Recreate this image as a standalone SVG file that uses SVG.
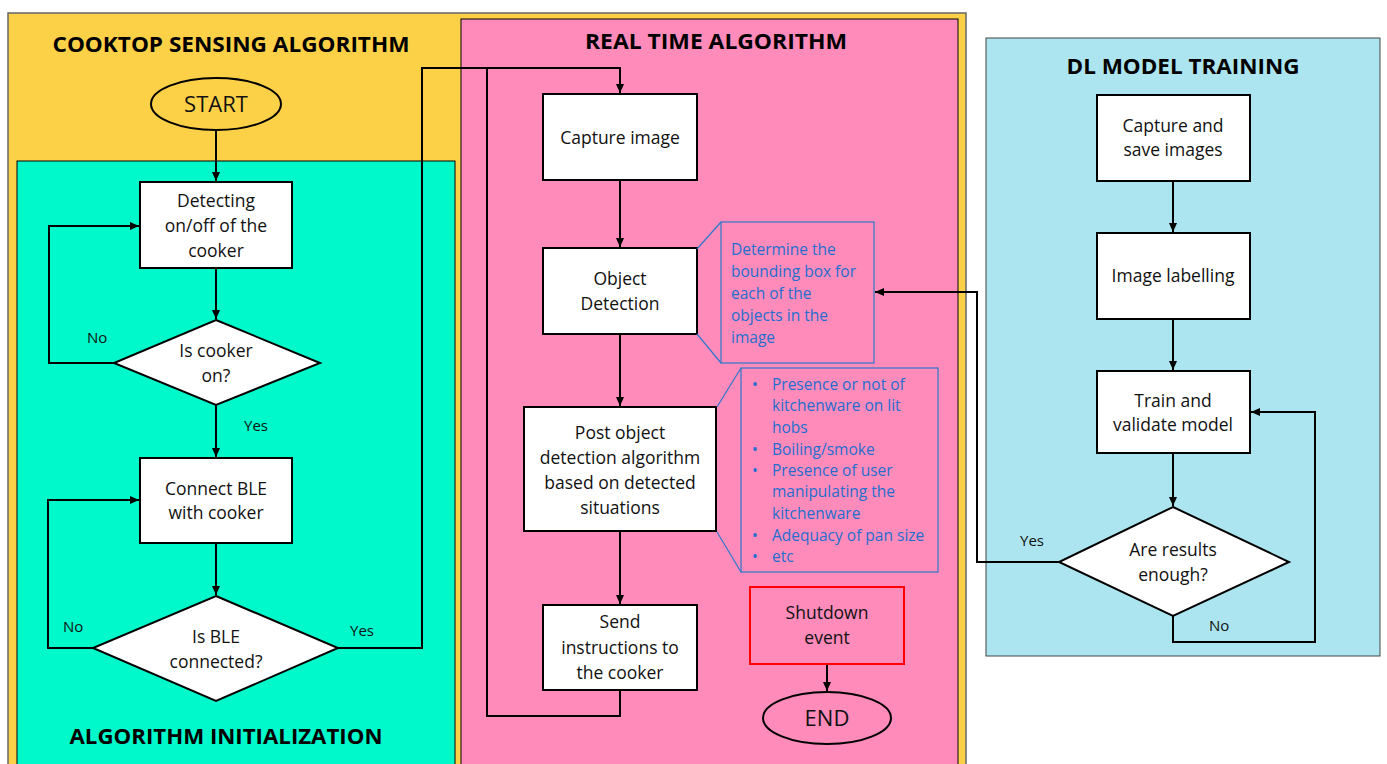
<svg xmlns="http://www.w3.org/2000/svg" width="1387" height="764" viewBox="0 0 1387 764">
<defs>
<marker id="ah" markerWidth="10" markerHeight="10" refX="9" refY="5" orient="auto" markerUnits="userSpaceOnUse">
<path d="M0,1 L9,5 L0,9 Z" fill="#000"/>
</marker>
<style>
.t{font-family:"Open Sans","Liberation Sans",sans-serif;font-size:17.5px;fill:#111;text-anchor:middle}
.h{font-family:"Open Sans","Liberation Sans",sans-serif;font-size:22px;font-weight:bold;fill:#000;text-anchor:middle}
.l{font-family:"Open Sans","Liberation Sans",sans-serif;font-size:15px;fill:#111}
.c{font-family:"Open Sans","Liberation Sans",sans-serif;font-size:15.5px;fill:#1F6ED0}
.box{fill:#fff;stroke:#000;stroke-width:2}
.cn{fill:none;stroke:#000;stroke-width:2}
.co{fill:none;stroke:#2E78CC;stroke-width:1.2}
</style>
</defs>
<rect width="1387" height="764" fill="#fff"/>
<g id="group-cooktop">
<rect x="8" y="13" width="958" height="760" fill="#FDD147" stroke="#666" stroke-width="1.5"/>
<text class="h" x="231" y="52" textLength="357" lengthAdjust="spacingAndGlyphs">COOKTOP SENSING ALGORITHM</text>
</g>
<g id="group-realtime">
<rect x="461" y="19" width="497" height="760" fill="#FE8BBA" stroke="#000" stroke-width="1"/>
<text class="h" x="716" y="49" textLength="262" lengthAdjust="spacingAndGlyphs">REAL TIME ALGORITHM</text>
</g>
<g id="group-init">
<rect x="17" y="161" width="438" height="610" fill="#00F9CA" stroke="#000" stroke-width="1"/>
<text class="h" x="226" y="744" textLength="313" lengthAdjust="spacingAndGlyphs">ALGORITHM INITIALIZATION</text>
</g>
<g id="group-dl">
<rect x="986" y="38" width="394" height="618" fill="#ACE5EF" stroke="#444" stroke-width="1"/>
<text class="h" x="1183" y="74" textLength="233" lengthAdjust="spacingAndGlyphs">DL MODEL TRAINING</text>
</g>

<g id="connectors">
<path class="cn" d="M216,130 V181" marker-end="url(#ah)"/>
<path class="cn" d="M216,268 V319" marker-end="url(#ah)"/>
<path class="cn" d="M114,363 H49 V226 H139" marker-end="url(#ah)"/>
<path class="cn" d="M216,405 V457" marker-end="url(#ah)"/>
<path class="cn" d="M216,543 V595" marker-end="url(#ah)"/>
<path class="cn" d="M93,648 H48 V500 H139" marker-end="url(#ah)"/>
<path class="cn" d="M338,648 H422 V68 H620 V93" marker-end="url(#ah)"/>
<path class="cn" d="M620,690 V716 H487 V68"/>
<path class="cn" d="M620,180 V247" marker-end="url(#ah)"/>
<path class="cn" d="M620,334 V406" marker-end="url(#ah)"/>
<path class="cn" d="M620,531 V604" marker-end="url(#ah)"/>
<path class="cn" d="M827,664 V691" marker-end="url(#ah)"/>
<path class="cn" d="M1059,562 H977 V292 H875" marker-end="url(#ah)"/>
<path class="cn" d="M1173,181 V232" marker-end="url(#ah)"/>
<path class="cn" d="M1173,319 V370" marker-end="url(#ah)"/>
<path class="cn" d="M1173,453 V506" marker-end="url(#ah)"/>
<path class="cn" d="M1173,616 V642 H1315 V412 H1251" marker-end="url(#ah)"/>
<text class="l" x="87" y="343">No</text>
<text class="l" x="244" y="431">Yes</text>
<text class="l" x="63" y="632">No</text>
<text class="l" x="350" y="636">Yes</text>
<text class="l" x="1020" y="546">Yes</text>
<text class="l" x="1209" y="631">No</text>
</g>

<g id="node-start">
<ellipse cx="216" cy="104" rx="65" ry="26" fill="#FDD147" stroke="#000" stroke-width="2"/>
<text class="t" x="216" y="112" style="font-size:22px">START</text>
</g>
<g id="node-detecting">
<rect class="box" x="140" y="182" width="152" height="86"/>
<text class="t" x="216" y="207">Detecting</text>
<text class="t" x="216" y="232">on/off of the</text>
<text class="t" x="216" y="257">cooker</text>
</g>
<g id="node-is-cooker-on">
<polygon points="216,320 320,363 216,405 114,363" fill="#fff" stroke="#000" stroke-width="2"/>
<text class="t" x="216" y="357">Is cooker</text>
<text class="t" x="216" y="382">on?</text>
</g>
<g id="node-connect-ble">
<rect class="box" x="140" y="458" width="152" height="85"/>
<text class="t" x="216" y="495">Connect BLE</text>
<text class="t" x="216" y="519">with cooker</text>
</g>
<g id="node-is-ble-connected">
<polygon points="216,596 338,648 216,701 93,648" fill="#fff" stroke="#000" stroke-width="2"/>
<text class="t" x="216" y="643">Is BLE</text>
<text class="t" x="216" y="668">connected?</text>
</g>

<g id="node-capture-image">
<rect class="box" x="543" y="94" width="154" height="86"/>
<text class="t" x="620" y="144">Capture image</text>
</g>
<g id="node-object-detection">
<rect class="box" x="543" y="248" width="154" height="86"/>
<text class="t" x="620" y="285">Object</text>
<text class="t" x="620" y="310">Detection</text>
</g>
<g id="note-bounding-box">
<rect class="co" x="721" y="222" width="153" height="141"/>
<path class="co" d="M697,249 L721,222 M697,334 L721,363"/>
<text class="c" x="731" y="255">Determine the</text>
<text class="c" x="731" y="277">bounding box for</text>
<text class="c" x="731" y="299">each of the</text>
<text class="c" x="731" y="321">objects in the</text>
<text class="c" x="731" y="343">image</text>
</g>
<g id="node-post-object">
<rect class="box" x="524" y="407" width="192" height="124"/>
<text class="t" x="620" y="439">Post object</text>
<text class="t" x="620" y="464">detection algorithm</text>
<text class="t" x="620" y="489">based on detected</text>
<text class="t" x="620" y="514">situations</text>
</g>
<g id="note-situations">
<rect class="co" x="741" y="368" width="197" height="204"/>
<path class="co" d="M717,407 L741,368 M717,532 L741,572"/>
<text class="c" x="752" y="390">•</text>
<text class="c" x="772" y="390">Presence or not of</text>
<text class="c" x="772" y="411">kitchenware on lit</text>
<text class="c" x="772" y="433">hobs</text>
<text class="c" x="752" y="455">•</text>
<text class="c" x="772" y="455">Boiling/smoke</text>
<text class="c" x="752" y="476">•</text>
<text class="c" x="772" y="476">Presence of user</text>
<text class="c" x="772" y="497">manipulating the</text>
<text class="c" x="772" y="519">kitchenware</text>
<text class="c" x="752" y="541">•</text>
<text class="c" x="772" y="541">Adequacy of pan size</text>
<text class="c" x="752" y="562">•</text>
<text class="c" x="772" y="562">etc</text>
</g>
<g id="node-send-instructions">
<rect class="box" x="543" y="605" width="154" height="85"/>
<text class="t" x="620" y="628">Send</text>
<text class="t" x="620" y="654">instructions to</text>
<text class="t" x="620" y="679">the cooker</text>
</g>
<g id="node-shutdown">
<rect x="750" y="587" width="154" height="77" fill="#FE8BBA" stroke="#FF0000" stroke-width="2"/>
<text class="t" x="827" y="619">Shutdown</text>
<text class="t" x="827" y="644">event</text>
</g>
<g id="node-end">
<ellipse cx="827" cy="718" rx="64" ry="26" fill="#FE8BBA" stroke="#000" stroke-width="2"/>
<text class="t" x="827" y="726" style="font-size:22px">END</text>
</g>

<g id="node-capture-save">
<rect class="box" x="1097" y="95" width="153" height="86"/>
<text class="t" x="1173" y="132">Capture and</text>
<text class="t" x="1173" y="156">save images</text>
</g>
<g id="node-image-labelling">
<rect class="box" x="1097" y="233" width="153" height="86"/>
<text class="t" x="1173" y="282">Image labelling</text>
</g>
<g id="node-train">
<rect class="box" x="1097" y="371" width="153" height="82"/>
<text class="t" x="1173" y="407">Train and</text>
<text class="t" x="1173" y="431">validate model</text>
</g>
<g id="node-results-enough">
<polygon points="1173,507 1289,562 1173,616 1059,562" fill="#fff" stroke="#000" stroke-width="2"/>
<text class="t" x="1173" y="556">Are results</text>
<text class="t" x="1173" y="581">enough?</text>
</g>
</svg>
